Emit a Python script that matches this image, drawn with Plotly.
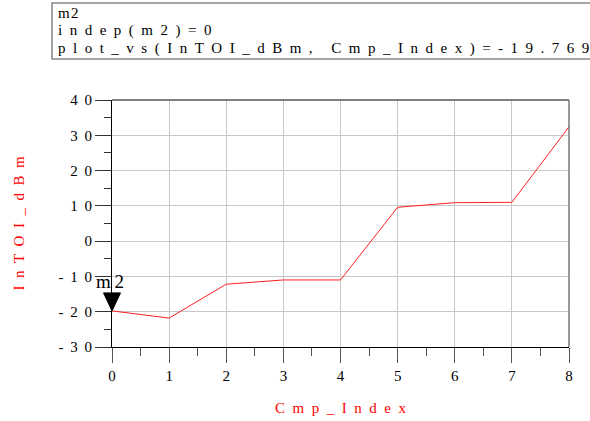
import plotly.graph_objects as go

cmp_index = [0, 1, 2, 3, 4, 5, 6, 7, 8]
intoi_dbm = [-19.769, -21.8, -12.2, -11.0, -11.0, 9.6, 10.9, 11.0, 32.4]

x_range = [0, 8]
y_range = [-30, 40]
x_ticks = [0, 1, 2, 3, 4, 5, 6, 7, 8]
y_ticks = [-30, -20, -10, 0, 10, 20, 30, 40]

marker_name = "m2"
readout_lines = ["m2", "indep(m2)=0", "plot_vs(InTOI_dBm, Cmp_Index)=-19.769"]
x_title = "Cmp_Index"
y_title = "InTOI_dBm"


def spaced(s, gap):
    return gap.join(list(s))


W, H = 590, 421
L, R, T, B = 112, 21, 100, 74
pw, ph = W - L - R, H - T - B


def px(x):
    return (x - L) / pw


def py(y):
    return (H - B - y) / ph


GAP_TXT = "\u00a0\u00a0"
GAP_TITLE = "\u00a0\u00a0"
GAP_TICK = "\u00a0\u2009"

fig = go.Figure()
fig.add_trace(go.Scatter(x=cmp_index, y=intoi_dbm, mode="lines",
                         line=dict(color="#ff2020", width=1), showlegend=False,
                         hoverinfo="skip"))

axis_font = dict(family="Liberation Serif, serif", size=15, color="#000000")
title_font = dict(family="Liberation Serif, serif", size=15, color="#ff0000")

y_tick_text = [spaced(str(v), GAP_TICK) for v in y_ticks]

fig.update_layout(
    width=W, height=H,
    margin=dict(l=L, r=R, t=T, b=B, autoexpand=False),
    paper_bgcolor="white", plot_bgcolor="white",
    xaxis=dict(range=x_range, tickvals=x_ticks, ticktext=[str(v) for v in x_ticks],
               showgrid=True, gridcolor="#c8c8c8", gridwidth=1,
               zeroline=False, showline=True, linecolor="black", linewidth=1,
               ticks="outside", ticklen=15, tickcolor="#555555", tickwidth=1,
               minor=dict(ticks="outside", ticklen=8, dtick=0.5, tickcolor="#555555", showgrid=False),
               tickfont=axis_font,
               title=dict(text=spaced(x_title, GAP_TITLE), standoff=19, font=title_font)),
    yaxis=dict(range=y_range, tickvals=y_ticks, ticktext=y_tick_text,
               showgrid=True, gridcolor="#c8c8c8", gridwidth=1,
               zeroline=False, showline=True, linecolor="black", linewidth=1,
               ticks="outside", ticklen=16, tickcolor="#333333", tickwidth=1,
               minor=dict(ticks="outside", ticklen=7, dtick=5, tickcolor="#333333", showgrid=False),
               tickfont=axis_font,
               title=dict(text=spaced(y_title, GAP_TITLE), standoff=30, font=title_font)),
)

# top and right border (dark gray)
fig.add_shape(type="line", xref="paper", yref="paper", x0=0, x1=1, y0=1, y1=1,
              line=dict(color="#555555", width=1.5))
fig.add_shape(type="line", xref="paper", yref="paper", x0=1, x1=1, y0=0, y1=1,
              line=dict(color="#777777", width=1.5))

# marker triangle (paper-referenced so it is not clipped at the plot edge)
mx = (cmp_index[0] - x_range[0]) / (x_range[1] - x_range[0])
my = (intoi_dbm[0] - y_range[0]) / (y_range[1] - y_range[0])
fig.add_shape(type="path", xref="paper", yref="paper", xsizemode="pixel", ysizemode="pixel",
              xanchor=mx, yanchor=my,
              path="M -8.5,18 L 8.5,18 L 0,0 Z", fillcolor="black", line=dict(color="black", width=1))
fig.add_annotation(x=mx, y=my, xref="paper", yref="paper", text=spaced(marker_name, "\u2009"),
                   showarrow=False, xanchor="center", yanchor="bottom", xshift=-2, yshift=17,
                   font=dict(family="Liberation Serif, serif", size=19, color="black"))

# readout box
fig.add_shape(type="rect", xref="paper", yref="paper", x0=px(52), x1=px(640), y0=py(59), y1=py(3),
              line=dict(color="#888888", width=1.5), fillcolor="white")
for i, (txt, yy) in enumerate(zip(readout_lines, [13, 31, 49])):
    fig.add_annotation(xref="paper", yref="paper", x=px(56), y=py(yy),
                       text=spaced(txt, "\u200a") if i == 0 else spaced(txt, GAP_TXT),
                       showarrow=False, xanchor="left", yanchor="middle",
                       font=dict(family="Liberation Serif, serif", size=15, color="black"))

fig.write_html("out.html", config={"displayModeBar": False},
               post_script="document.body.style.margin='0px';document.body.style.padding='0px';")
